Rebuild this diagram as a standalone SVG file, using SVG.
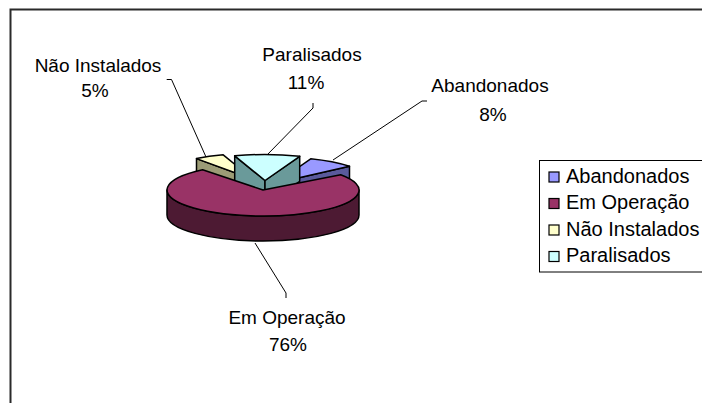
<svg xmlns="http://www.w3.org/2000/svg" width="702" height="403" viewBox="0 0 702 403">
<style>
text{font-family:"Liberation Sans",Arial,sans-serif;font-size:19px;fill:#000}
.lbl{text-anchor:middle}
.leg{font-size:20px}
.ol{stroke:#000;stroke-width:1.5;stroke-linejoin:round}
.lead{fill:none;stroke:#000;stroke-width:1}
.sw{stroke:#000;stroke-width:1.2}
</style>
<rect x="0" y="0" width="702" height="403" fill="#fff"/>
<rect x="10.5" y="9.5" width="720" height="420" fill="none" stroke="#2a2a2a" stroke-width="2"/>
<g id="slice-nao-instalados">
<path class="ol" fill="#9c9c76" d="M253.5,179.5 L196.5,158.6 L196.5,183.6 L253.5,204.5 Z"/>
<path class="ol" fill="#ffffcc" d="M253.5,179.5 L196.5,158.6 A96 26 0 0 1 223.2,154.8 Z"/>
</g>
<g id="slice-abandonados">
<path class="ol" fill="#5a5a9c" d="M276,183 L349.5,166.3 L349.5,191.3 L276,208 Z"/>
<path class="ol" fill="#9999ff" d="M276,183 L310.7,158.8 A96 26 0 0 1 349.5,166.3 Z"/>
</g>
<g id="slice-paralisados">
<path class="ol" fill="#6a9a9a" d="M265,180.5 L234.7,155.8 L234.7,180.8 L265,205.5 Z"/>
<path class="ol" fill="#6a9a9a" d="M265,180.5 L299.7,156.3 L299.7,181.3 L265,205.5 Z"/>
<path class="ol" fill="#ccffff" d="M265,180.5 L234.7,155.8 A96 26 0 0 1 299.7,156.3 Z"/>
</g>
<g id="slice-em-operacao">
<path class="ol" fill="#4d1a33" d="M167,190 A96 26 0 0 0 359,190 L359,215 A96 26 0 0 1 167,215 Z"/>
<path class="ol" fill="#993366" d="M263,190 L202.6,169.8 A96 26 0 1 0 340.7,174.7 Z"/>
</g>
<g id="connectors">
<polyline class="lead" points="166.7,79.5 171.5,79.5 206,157"/>
<polyline class="lead" points="313,103 313,108 267,155"/>
<polyline class="lead" points="427,101 422,101 333,160"/>
<polyline class="lead" points="255,243 286,293 286,298"/>
</g>
<g id="label-nao-instalados">
<text class="lbl" x="98" y="71.5">Não Instalados</text>
<text class="lbl" x="95" y="97">5%</text>
</g>
<g id="label-paralisados">
<text class="lbl" x="312" y="61">Paralisados</text>
<text class="lbl" x="306" y="89">11%</text>
</g>
<g id="label-abandonados">
<text class="lbl" x="490" y="92">Abandonados</text>
<text class="lbl" x="493" y="120.5">8%</text>
</g>
<g id="label-em-operacao">
<text class="lbl" x="287" y="323.5">Em Operação</text>
<text class="lbl" x="288" y="351">76%</text>
</g>
<g id="legend">
<rect x="539.5" y="160.5" width="200" height="111.5" fill="#fff" stroke="#000" stroke-width="1"/>
<rect class="sw" x="549" y="172" width="10" height="10" fill="#9999ff"/>
<text class="leg" x="566" y="182.5">Abandonados</text>
<rect class="sw" x="549" y="198.5" width="10" height="10" fill="#993366"/>
<text class="leg" x="566" y="209">Em Operação</text>
<rect class="sw" x="549" y="225" width="10" height="10" fill="#ffffcc"/>
<text class="leg" x="566" y="235.5">Não Instalados</text>
<rect class="sw" x="549" y="251.5" width="10" height="10" fill="#ccffff"/>
<text class="leg" x="566" y="262">Paralisados</text>
</g>
</svg>
